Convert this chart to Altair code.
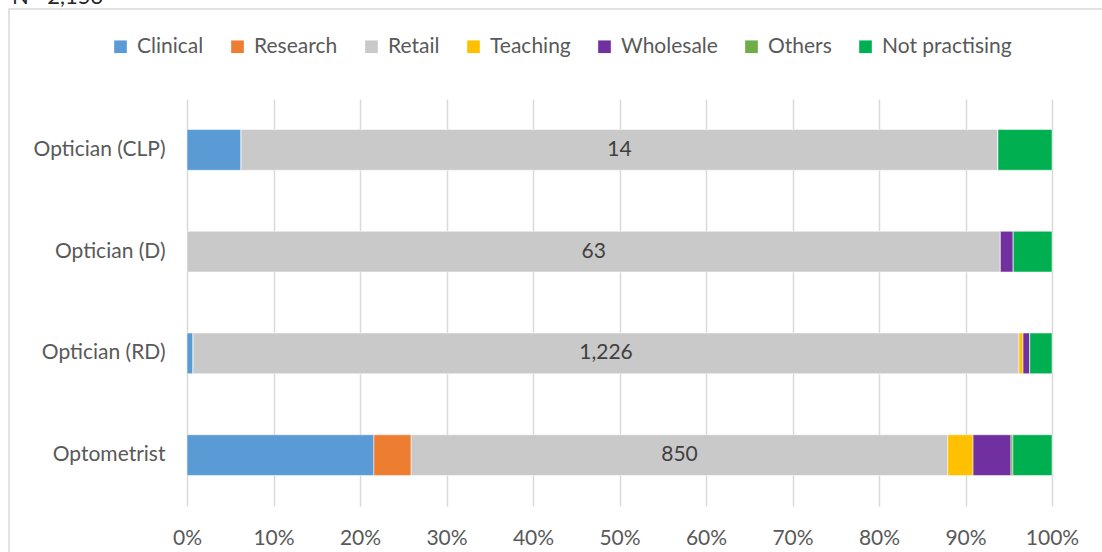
import altair as alt
import pandas as pd

groups = ["Optician (CLP)", "Optician (D)", "Optician (RD)", "Optometrist"]
categories = ["Clinical", "Research", "Retail", "Teaching", "Wholesale", "Others", "Not practising"]
colors = ["#5B9BD5", "#ED7D31", "#C9C9C9", "#FFC000", "#7030A0", "#70AD47", "#00B050"]

# counts per group, in category order
clp = [1, 0, 14, 0, 0, 0, 1]
d = [0, 0, 63, 0, 1, 0, 3]
rd = [9, 0, 1226, 6, 10, 0, 33]
optom = [296, 59, 850, 40, 60, 3, 62]

title_text = "N= 2,153"
x_ticks = [0, 0.1, 0.2, 0.3, 0.4, 0.5, 0.6, 0.7, 0.8, 0.9, 1.0]

rows = []
for g, vals in zip(groups, [clp, d, rd, optom]):
    for i, (c, v) in enumerate(zip(categories, vals)):
        rows.append({"group": g, "cat": c, "order": i, "count": v})
df = pd.DataFrame(rows)

FONT = "Lato"
FS = 21
GREY = "#595959"

base = alt.Chart(df).transform_joinaggregate(
    total="sum(count)", groupby=["group"]
).transform_calculate(
    pct="datum.count / datum.total"
).transform_window(
    end="sum(pct)", sort=[alt.SortField("order")], groupby=["group"], frame=[None, 0]
).transform_calculate(
    start="datum.end - datum.pct",
    mid="(datum.start + datum.end) / 2",
)

y_enc = alt.Y(
    "group:N",
    sort=groups,
    scale=alt.Scale(paddingInner=0.6, paddingOuter=0.3),
    axis=alt.Axis(
        title=None, domain=False, ticks=False, labelFont=FONT, labelFontSize=FS,
        labelColor=GREY, labelPadding=22, labelLimit=0,
    ),
)

bars = base.mark_bar(stroke="white", strokeWidth=0.5).encode(
    x=alt.X(
        "start:Q",
        scale=alt.Scale(domain=[0, 1]),
        axis=alt.Axis(
            title=None, format=".0%", values=x_ticks, grid=True, gridColor="#D9D9D9",
            gridWidth=1.5, domain=False, ticks=False, labelFont=FONT, labelFontSize=FS,
            labelColor=GREY, labelPadding=21, labelFlush=False,
        ),
    ),
    x2="end:Q",
    y=y_enc,
    color=alt.Color(
        "cat:N",
        scale=alt.Scale(domain=categories, range=colors),
        legend=alt.Legend(
            title=None, orient="none", direction="horizontal", legendX=-77, legendY=-63,
            symbolType="square", symbolSize=160, symbolStrokeWidth=0, labelFont=FONT,
            labelFontSize=FS, labelColor=GREY, columnPadding=23, symbolOffset=0,
            labelOffset=6, labelLimit=0, columns=7,
        ),
    ),
    order=alt.Order("order:Q"),
)

labels = base.transform_filter("datum.cat == 'Retail'").mark_text(
    font=FONT, fontSize=FS, color="#404040", baseline="middle", align="center"
).encode(
    x="mid:Q",
    y=alt.Y("group:N", sort=groups),
    text=alt.Text("count:Q", format=","),
)

one = pd.DataFrame({"t": [title_text]})
frame = alt.Chart(one).mark_rect(fill=None, stroke="#D9D9D9", strokeWidth=1.5).encode(
    x=alt.value(9 - 187), x2=alt.value(1102 - 187 + 10),
    y=alt.value(9 - 99), y2=alt.value(552 - 99 + 10),
)
title = alt.Chart(one).mark_text(
    font=FONT, fontSize=22, color="#262626", align="left", baseline="alphabetic"
).encode(
    x=alt.value(12 - 187), y=alt.value(4 - 99), text="t:N"
)

chart = alt.layer(frame, bars, labels, title).properties(
    width=865, height=407,
    autosize=alt.AutoSizeParams(type="none"),
    padding={"left": 187, "top": 99, "right": 50, "bottom": 46},
    background="white",
).configure_view(stroke=None)

chart.save("out.html", embed_options={"renderer": "svg", "actions": False})
